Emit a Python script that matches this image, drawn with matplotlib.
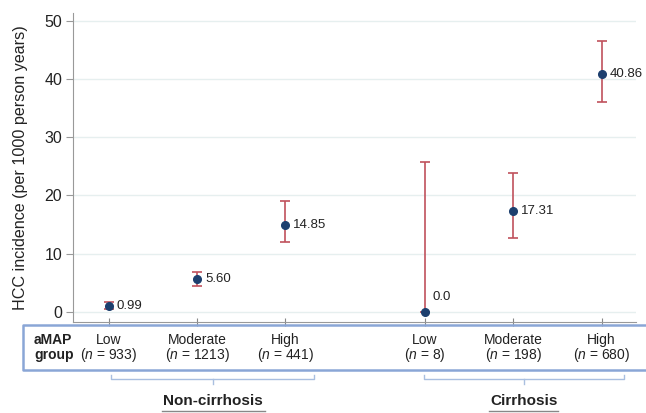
import matplotlib.pyplot as plt
import matplotlib.transforms as mtransforms
from matplotlib.lines import Line2D
import numpy as np

plt.rcParams['font.family'] = ['Liberation Sans', 'DejaVu Sans']
plt.rcParams['mathtext.fontset'] = 'custom'
plt.rcParams['mathtext.it'] = 'Liberation Sans:italic'
plt.rcParams['mathtext.rm'] = 'Liberation Sans'

# Data
groups = ["Low", "Moderate", "High", "Low", "Moderate", "High"]
n_counts = [933, 1213, 441, 8, 198, 680]
positions = [1, 2, 3, 4.58, 5.58, 6.58]
incidence = [0.99, 5.60, 14.85, 0.0, 17.31, 40.86]
ci_low = [0.55, 4.5, 12.0, 0.0, 12.6, 36.0]
ci_high = [1.75, 6.9, 19.0, 25.7, 23.8, 46.5]
value_labels = ["0.99", "5.60", "14.85", "0.0", "17.31", "40.86"]
cohorts = ["Non-cirrhosis", "Cirrhosis"]

W, H = 646, 413
fig = plt.figure(figsize=(W / 100, H / 100), dpi=100)
ax = fig.add_axes([73.3 / W, 1 - 321.7 / H, (636 - 73.3) / W, (321.7 - 13) / H])

x = np.array(positions)
y = np.array(incidence)
yerr = [y - np.array(ci_low), np.array(ci_high) - y]
ax.errorbar(x, y, yerr=yerr, fmt='o', color='#1d3f6e', ecolor='#c0515c',
            elinewidth=1.2, capsize=3.5, capthick=1.2, markersize=5.5, zorder=3)

for xi, yi, lab in zip(x, y, value_labels):
    off = (8, 15) if lab == "0.0" else (8, 0)
    ax.annotate(lab, (xi, yi), xytext=off, textcoords='offset pixels',
                ha='left', va='center', fontsize=9.5, color='#222222')

ax.set_xlim(0.6, 6.97)
ax.set_ylim(-1.7, 51.3)
ax.set_yticks([0, 10, 20, 30, 40, 50])
ax.set_xticks(positions)
ax.set_xticklabels([])
ax.grid(axis='y', color='#e6efef', linewidth=1)
ax.set_axisbelow(True)
for s in ['top', 'right']:
    ax.spines[s].set_visible(False)
for s in ['left', 'bottom']:
    ax.spines[s].set_color('#999999')
ax.tick_params(axis='y', length=5, color='#999999', labelsize=11.5, labelcolor='#222222', pad=3)
ax.tick_params(axis='x', direction='inout', length=6, color='#888888')
ax.set_ylabel("HCC incidence (per 1000 person years)", fontsize=11.6, color='#222222')
ax.yaxis.set_label_coords(-0.08, 0.5)

# table row under the axis
bt = mtransforms.blended_transform_factory(ax.transData, fig.transFigure)
for xi, g, n in zip(positions, groups, n_counts):
    fig.text(xi, 1 - 340 / H, g, transform=bt, ha='center', va='center', fontsize=10, color='#222222')
    fig.text(xi, 1 - 355 / H, "($n$ = %d)" % n, transform=bt, ha='center', va='center',
             fontsize=10, color='#222222')
fig.text(34 / W, 1 - 340 / H, "aMAP", ha='left', va='center', fontsize=10, fontweight='bold', color='#222222')
fig.text(34 / W, 1 - 355 / H, "group", ha='left', va='center', fontsize=10, fontweight='bold', color='#222222')

box_c = '#8aa6d6'
x0, x1 = 22.7 / W, 1.01
yt, yb = 1 - 325 / H, 1 - 370 / H
fig.add_artist(Line2D([x1, x0, x0, x1], [yt, yt, yb, yb], color=box_c, lw=1.8,
                      transform=fig.transFigure))

# cohort brackets
br_c = '#a9bfe0'
for (l, r, c), name, (ul, ur) in zip([(111, 314, 213), (424, 624, 524)], cohorts,
                                     [(162, 265), (488.7, 558)]):
    fig.add_artist(Line2D(np.array([l, l, r, r]) / W,
                          1 - np.array([375, 379, 379, 375]) / H,
                          color=br_c, lw=1, transform=fig.transFigure))
    fig.add_artist(Line2D([c / W, c / W], [1 - 379 / H, 1 - 384 / H],
                          color=br_c, lw=1, transform=fig.transFigure))
    fig.text(c / W, 1 - 401 / H, name, ha='center', va='center', fontsize=11,
             fontweight='bold', color='#222222')
    fig.add_artist(Line2D([ul / W, ur / W], [1 - 410.7 / H, 1 - 410.7 / H],
                          color='#888888', lw=1, transform=fig.transFigure))

fig.savefig("out.png", dpi=100)
